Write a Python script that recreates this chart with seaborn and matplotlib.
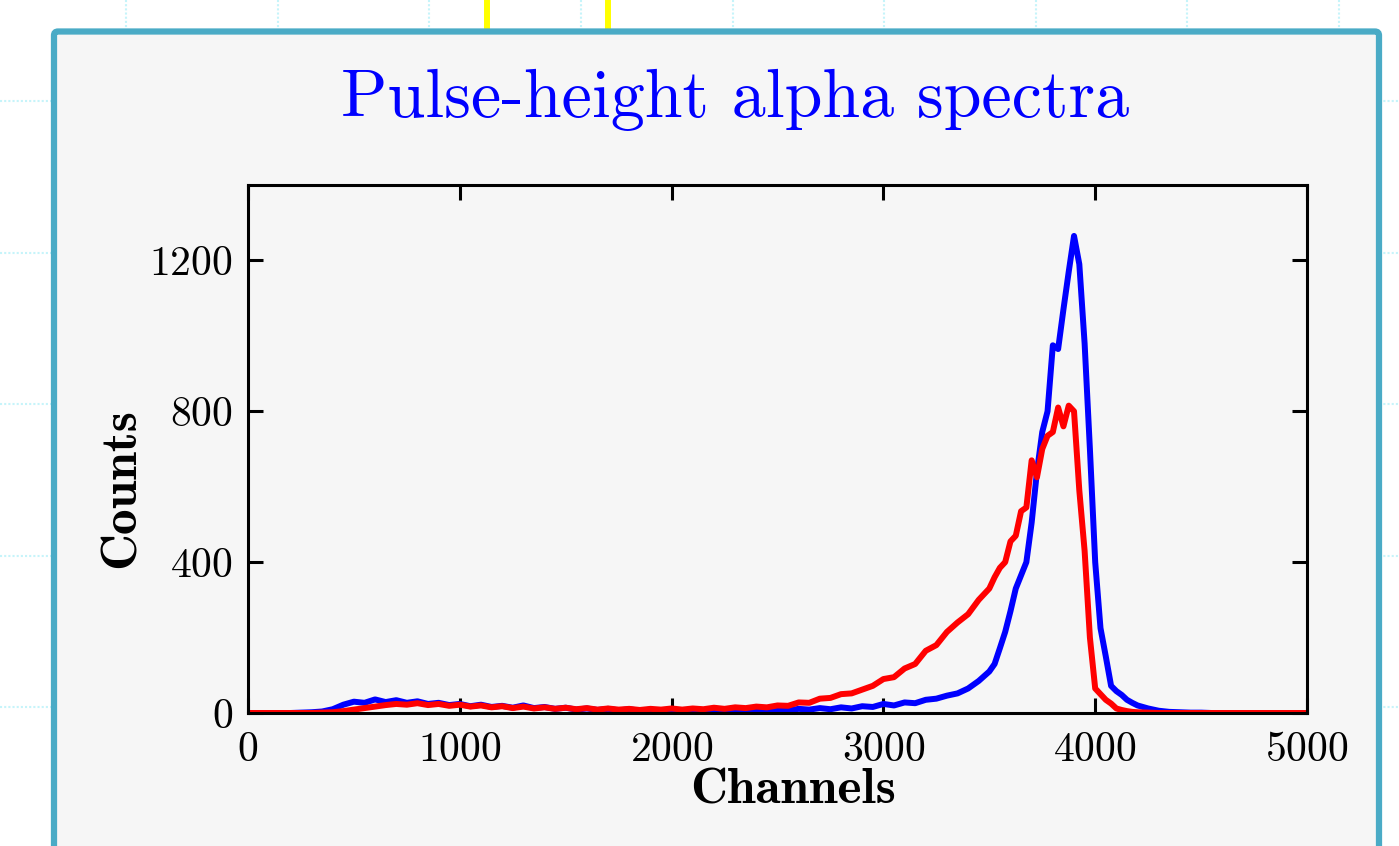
import matplotlib
matplotlib.use("Agg")
import matplotlib.pyplot as plt
from matplotlib.patches import FancyBboxPatch
import seaborn as sns

# channel grid (bin positions): coarse on the tails, finer around the peak
channels = list(range(0, 3501, 50)) + list(range(3525, 4201, 25)) + list(range(4250, 5001, 50))

# counts
blue_counts = [
    0, 0, 0, 0, 0, 1, 2, 4, 10, 22, 30, 27, 36, 29, 34, 27, 31, 24, 27, 21,
    24, 18, 22, 16, 19, 14, 20, 13, 16, 11, 14, 9, 12, 8, 11, 7, 10, 6, 9, 6,
    8, 5, 8, 6, 9, 5, 8, 6, 9, 6, 10, 7, 11, 9, 13, 10, 15, 12, 18, 16,
    24, 20, 28, 26, 35, 38, 46, 52, 65, 85, 110,
    130, 172, 215, 270, 330, 365, 400, 505, 640, 745, 800, 975, 965, 1070,
    1170, 1265, 1190, 980, 700, 400, 225, 150, 72, 58, 48, 35, 27, 20,
    12, 6, 3, 2, 1, 1, 0, 0, 0, 0, 0, 0, 0, 0, 0, 0,
]
red_counts = [
    0, 0, 0, 0, 0, 0, 0, 1, 2, 5, 9, 13, 17, 21, 24, 22, 26, 21, 24, 19,
    22, 17, 20, 15, 18, 13, 17, 12, 15, 11, 14, 10, 13, 9, 12, 9, 11, 8, 11, 9,
    12, 9, 12, 10, 14, 11, 15, 13, 17, 15, 20, 19, 28, 27, 38, 40, 50, 52, 62, 72,
    90, 95, 118, 130, 165, 180, 215, 240, 262, 300, 330,
    360, 385, 400, 455, 470, 535, 545, 670, 625, 700, 735, 745, 810, 760,
    815, 800, 590, 430, 200, 65, 50, 35, 25, 12, 8, 5, 3, 2,
    1, 0, 0, 0, 0, 0, 0, 0, 0, 0, 0, 0, 0, 0, 0, 0,
]

x_ticks = [0, 1000, 2000, 3000, 4000, 5000]
y_ticks = [0, 400, 800, 1200]

sns.set_style("ticks")
plt.rcParams["font.family"] = ["cmr10", "DejaVu Serif"]
plt.rcParams["axes.formatter.use_mathtext"] = True

W, H = 1399, 846
fig = plt.figure(figsize=(W / 100, H / 100), dpi=100, facecolor="white")

# page background: dotted cyan grid, yellow strip, framed panel
bg = fig.add_axes([0, 0, 1, 1])
bg.set_xlim(0, W)
bg.set_ylim(H, 0)
bg.axis("off")
grid_kw = dict(color="#c6f4fa", lw=1.5, ls=(0, (1, 1)), zorder=0)
for gx in [126, 278, 429, 581, 733, 884, 1036, 1187, 1339]:
    bg.plot([gx, gx], [0, H], **grid_kw)
for gy in [101, 253, 404, 556, 707]:
    bg.plot([0, W], [gy, gy], **grid_kw)
for yx in [487, 608]:
    bg.plot([yx, yx], [0, 40], color="#ffff00", lw=4.3, zorder=1)
panel = FancyBboxPatch((54, 31.5), 1325, 900,
                       boxstyle="round,pad=0,rounding_size=4",
                       facecolor="#f6f6f6", edgecolor="#4aabc6", lw=4.5, zorder=2)
bg.add_patch(panel)

fig.text(735 / W, 1 - 117 / H, "Pulse-height alpha spectra", color="#0000ff",
         fontsize=49, ha="center", va="baseline", family="cmr10")

ax = fig.add_axes([248 / W, (H - 713) / H, 1059 / W, 528 / H])
ax.set_facecolor("#f6f6f6")

sns.lineplot(x=channels, y=blue_counts, color="#0000ff", linewidth=4.3, ax=ax)
sns.lineplot(x=channels, y=red_counts, color="#ff0000", linewidth=4.3, ax=ax)

ax.set_xlim(0, 5000)
ax.set_ylim(0, 1400)
ax.set_xticks(x_ticks)
ax.set_yticks(y_ticks)
for s in ax.spines.values():
    s.set_visible(True)
    s.set_color("black")
    s.set_linewidth(2.2)
ax.tick_params(direction="in", length=11, width=2.2, top=True, right=True,
               labelsize=30, colors="black")
ax.tick_params(axis="x", pad=13)
ax.tick_params(axis="y", pad=11)

ax.set_xlabel("Channels", fontsize=37, family="cmb10", color="black")
ax.set_ylabel("Counts", fontsize=37, family="cmb10", color="black")
ax.xaxis.set_label_coords(0.515, -0.105)
ax.yaxis.set_label_coords(-0.098, 0.426)

fig.savefig("out.png", dpi=100, facecolor="white")
